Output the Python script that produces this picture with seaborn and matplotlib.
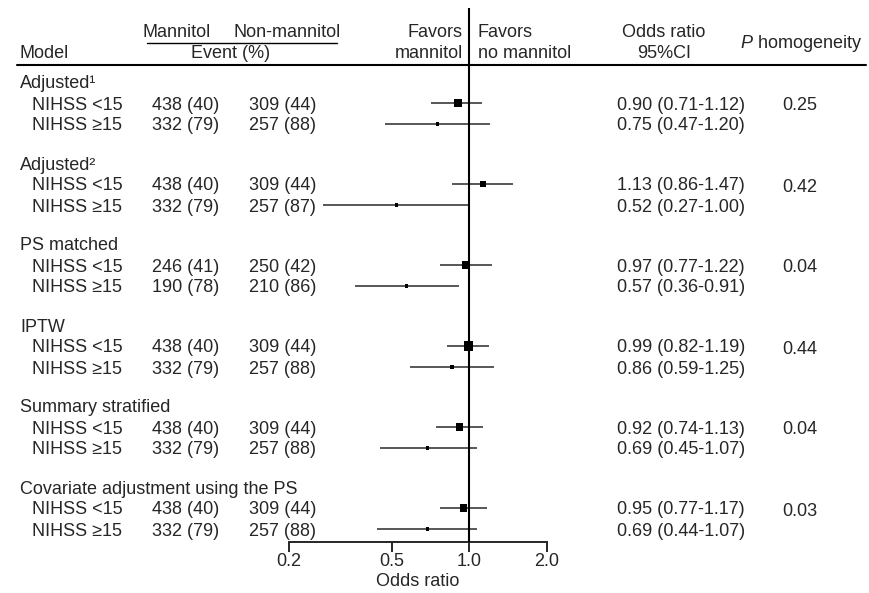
import matplotlib
matplotlib.use("Agg")
import matplotlib.pyplot as plt
import matplotlib.transforms as mtransforms
import pandas as pd
import seaborn as sns

# Data
models = ["Adjusted¹", "Adjusted²", "PS matched", "IPTW",
          "Summary stratified", "Covariate adjustment using the PS"]
strata = ["NIHSS <15", "NIHSS ≥15"]

mannitol_n = [438, 332, 438, 332, 246, 190, 438, 332, 438, 332, 438, 332]
mannitol_pct = [40, 79, 40, 79, 41, 78, 40, 79, 40, 79, 40, 79]
nonmannitol_n = [309, 257, 309, 257, 250, 210, 309, 257, 309, 257, 309, 257]
nonmannitol_pct = [44, 88, 44, 87, 42, 86, 44, 88, 44, 88, 44, 88]

odds_ratio = [0.90, 0.75, 1.13, 0.52, 0.97, 0.57, 0.99, 0.86, 0.92, 0.69, 0.95, 0.69]
ci_lower = [0.71, 0.47, 0.86, 0.27, 0.77, 0.36, 0.82, 0.59, 0.74, 0.45, 0.77, 0.44]
ci_upper = [1.12, 1.20, 1.47, 1.00, 1.22, 0.91, 1.19, 1.25, 1.13, 1.07, 1.17, 1.07]
weight = [64, 9, 36, 9, 49, 12, 81, 16, 49, 12, 49, 9]   # relative box area
p_homogeneity = ["0.25", "0.42", "0.04", "0.44", "0.04", "0.03"]

xticks = [0.2, 0.5, 1.0, 2.0]
xticklabels = ["0.2", "0.5", "1.0", "2.0"]

# Layout (vertical units = pixels from top)
W, H = 870, 593
group_step, row_step = 81, 21
first_row = 103

rows = []
for g, m in enumerate(models):
    for s, st in enumerate(strata):
        rows.append(dict(model=m, stratum=st, y=first_row + g * group_step + s * row_step))
df = pd.DataFrame(rows)
df["or_"] = odds_ratio
df["lo"] = ci_lower
df["hi"] = ci_upper
df["w"] = weight

sns.set_style("white")
plt.rcParams["font.family"] = ["Liberation Sans", "DejaVu Sans"]
plt.rcParams["mathtext.fontset"] = "custom"
plt.rcParams["mathtext.rm"] = "Liberation Sans"
plt.rcParams["mathtext.it"] = "Liberation Sans:italic"
FS = 13

fig = plt.figure(figsize=(W / 100, H / 100), dpi=100)
ax = fig.add_axes([289 / W, 1 - 542 / H, (547 - 289) / W, (542 - 8) / H])
ax.set_xscale("log")
ax.set_xlim(0.2, 2.0)
ax.set_ylim(542, 8)

# CI lines and boxes
ax.hlines(df["y"], df["lo"], df["hi"], color="#2a2a2a", lw=1.1, zorder=2)
sns.scatterplot(data=df, x="or_", y="y", size="w",
                sizes={w: w * 0.52 for w in set(weight)},
                marker="s", color="black", linewidth=0, legend=False, ax=ax, zorder=3)
ax.axvline(1.0, color="black", lw=1.5, zorder=4)

# axis styling
for sp in ["top", "right", "left"]:
    ax.spines[sp].set_visible(False)
ax.spines["bottom"].set_linewidth(1.4)
ax.set_xticks(xticks)
ax.set_xticklabels(xticklabels, fontsize=FS)
ax.minorticks_off()
ax.tick_params(axis="x", direction="out", length=7, width=1.4, pad=1, bottom=True)
ax.set_yticks([])
ax.set_ylabel("")
ax.set_xlabel("Odds ratio", fontsize=FS, labelpad=2)

tr = mtransforms.blended_transform_factory(fig.transFigure, ax.transData)


def put(xpx, y, s, ha="left", va="baseline"):
    ax.text(xpx / W, y, s, transform=tr, ha=ha, va=va, fontsize=FS, clip_on=False)


# headers
put(20, 58, "Model")
put(177, 37, "Mannitol", ha="center")
put(287, 37, "Non-mannitol", ha="center")
put(231, 58, "Event (%)", ha="center")
put(463, 37, "Favors", ha="right")
put(463, 58, "mannitol", ha="right")
put(478, 37, "Favors")
put(478, 58, "no mannitol")
put(664, 37, "Odds ratio", ha="center")
put(664, 58, "95%CI", ha="center")
put(801, 48, r"$P$ homogeneity", ha="center")

ax.plot([147 / W, 337 / W], [43, 43], transform=tr, color="black", lw=1.0, clip_on=False)
ax.plot([17 / W, 866 / W], [65, 65], transform=tr, color="black", lw=1.5, clip_on=False)

# body text
base = 6.5
for g, m in enumerate(models):
    y0 = first_row + g * group_step
    put(20, y0 - row_step + base, m)
    put(800, y0 + base + 1, p_homogeneity[g], ha="center")
for i, r in df.iterrows():
    yb = r["y"] + base
    put(32, yb, r["stratum"])
    put(152, yb, f"{mannitol_n[i]} ({mannitol_pct[i]})")
    put(249, yb, f"{nonmannitol_n[i]} ({nonmannitol_pct[i]})")
    put(617, yb, f"{odds_ratio[i]:.2f} ({ci_lower[i]:.2f}-{ci_upper[i]:.2f})")

fig.savefig("out.png", dpi=100)
